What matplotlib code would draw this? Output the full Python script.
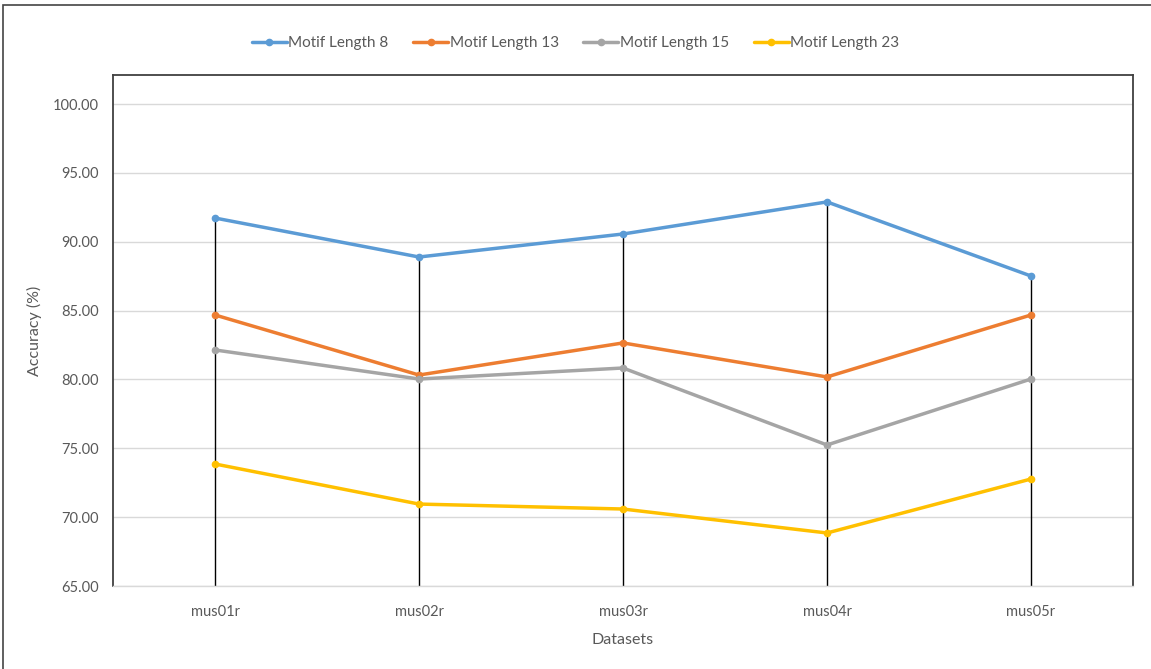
import matplotlib.pyplot as plt
from matplotlib.patches import Rectangle

# -------------------------------------------------------------------------
# DATA
# -------------------------------------------------------------------------
datasets = ['mus01r', 'mus02r', 'mus03r', 'mus04r', 'mus05r']

motif_8 = [91.72, 88.89, 90.56, 92.89, 87.51]
motif_13 = [84.68, 80.32, 82.65, 80.18, 84.68]
motif_15 = [82.14, 80.03, 80.83, 75.24, 80.03]
motif_23 = [73.86, 70.95, 70.59, 68.85, 72.77]

series_labels = ['Motif Length 8', 'Motif Length 13', 'Motif Length 15', 'Motif Length 23']
series_colors = ['#5B9BD5', '#ED7D31', '#A5A5A5', '#FFC000']

y_ticks = [65, 70, 75, 80, 85, 90, 95, 100]

TEXT_COLOR = '#595959'

plt.rcParams['font.family'] = ['Lato', 'DejaVu Sans']

fig = plt.figure(figsize=(11.51, 6.69), dpi=100)
W, H = 1151, 669
ax = fig.add_axes([113 / W, 1 - 586 / H, (1133 - 113) / W, (586 - 75) / H])

# outer chart frame
fig.patches.append(Rectangle((3 / W, -0.1), 1.2, 1 - 5 / H + 0.1, transform=fig.transFigure,
                             fill=False, edgecolor='#444444', linewidth=1.2))

x = [i + 0.5 for i in range(len(datasets))]
all_series = [motif_8, motif_13, motif_15, motif_23]

# drop lines from the highest point of each category to the axis
for i, xi in enumerate(x):
    top = max(s[i] for s in all_series)
    ax.vlines(xi, 65, top, color='black', linewidth=1.0, zorder=2)

for values, label, color in zip(all_series, series_labels, series_colors):
    ax.plot(x, values, color=color, linewidth=2.5, marker='o', markersize=4.5,
            label=label, zorder=3, solid_capstyle='round')

ax.set_xlim(0, len(datasets))
ax.set_ylim(65, 65 + 35 * (586 - 75) / (586 - 104))
ax.set_yticks(y_ticks)
ax.set_yticklabels([f'{v:.2f}' for v in y_ticks])
ax.set_xticks(x)
ax.set_xticklabels(datasets)
ax.tick_params(axis='both', length=0, labelsize=10.5, colors=TEXT_COLOR)
ax.tick_params(axis='x', pad=14)
ax.tick_params(axis='y', pad=10)

ax.grid(axis='y', color='#D9D9D9', linewidth=1.0, zorder=0)
ax.set_axisbelow(True)

for side in ['left', 'top', 'right']:
    ax.spines[side].set_color('#404040')
    ax.spines[side].set_linewidth(1.3)
ax.spines['bottom'].set_color('#D9D9D9')
ax.spines['bottom'].set_linewidth(1.0)

ax.set_xlabel('Datasets', fontsize=11.5, color=TEXT_COLOR, labelpad=10)
ax.set_ylabel('Accuracy (%)', fontsize=11.5, color=TEXT_COLOR, labelpad=8)

fig.legend(loc='center', bbox_to_anchor=(0.5, 1 - 43 / H), ncol=4, frameon=False,
           fontsize=11, labelcolor=TEXT_COLOR, handlelength=2.3, handletextpad=0.1,
           columnspacing=1.6)

fig.savefig('out.png', dpi=100)
